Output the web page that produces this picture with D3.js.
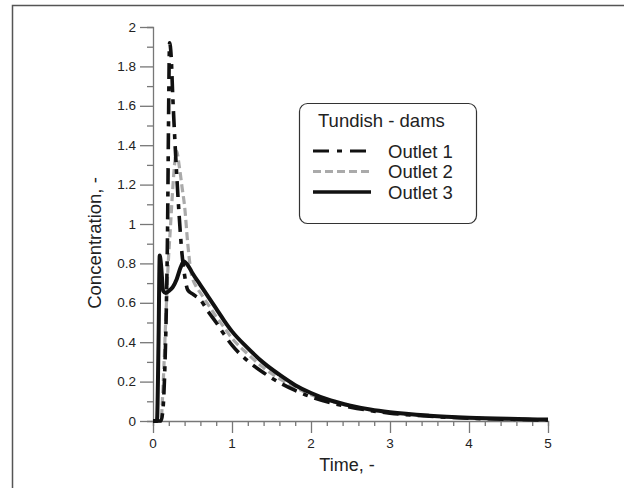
<!DOCTYPE html>
<html><head><meta charset="utf-8">
<script src="https://cdn.jsdelivr.net/npm/d3@7"></script>
<style>
html,body{margin:0;padding:0;background:#fff;}
svg{display:block;font-family:"Liberation Sans",Arial,sans-serif;}
text.lbl{font-size:13.5px;fill:#222;}
</style></head>
<body>
<svg id="c" width="624" height="488"></svg>
<script>
// ---- data ----
const xTicks = [0, 1, 2, 3, 4, 5];
const yTicks = [0, 0.2, 0.4, 0.6, 0.8, 1, 1.2, 1.4, 1.6, 1.8, 2];
const seriesNames = ["Outlet 1", "Outlet 2", "Outlet 3"];
const legendTitle = "Tundish - dams";

const t1 = [0, 0.1, 0.13, 0.15, 0.17, 0.185, 0.195, 0.21, 0.23, 0.25, 0.27, 0.3, 0.33, 0.36, 0.4, 0.44, 0.5, 0.6, 0.7, 0.8, 0.9, 1.0, 1.2, 1.4, 1.6, 1.8, 2.0, 2.25, 2.5, 2.75, 3.0, 3.5, 4.0, 4.5, 5.0];
const c1 = [0, 0, 0.08, 0.27, 0.6, 1.0, 1.45, 1.92, 1.85, 1.65, 1.48, 1.25, 1.05, 0.88, 0.74, 0.665, 0.645, 0.615, 0.555, 0.5, 0.44, 0.385, 0.305, 0.245, 0.195, 0.155, 0.123, 0.093, 0.07, 0.053, 0.04, 0.024, 0.014, 0.009, 0.005];

const t2 = [0, 0.1, 0.13, 0.16, 0.19, 0.22, 0.25, 0.28, 0.3, 0.33, 0.37, 0.4, 0.44, 0.48, 0.55, 0.6, 0.7, 0.8, 0.9, 1.0, 1.2, 1.4, 1.6, 1.8, 2.0, 2.25, 2.5, 2.75, 3.0, 3.5, 4.0, 4.5, 5.0];
const c2 = [0, 0, 0.2, 0.5, 0.78, 0.98, 1.18, 1.33, 1.37, 1.3, 1.18, 1.09, 0.9, 0.76, 0.68, 0.65, 0.59, 0.53, 0.475, 0.42, 0.34, 0.27, 0.215, 0.17, 0.133, 0.1, 0.075, 0.057, 0.042, 0.026, 0.016, 0.01, 0.006];

const t3 = [0, 0.05, 0.07, 0.085, 0.1, 0.13, 0.16, 0.2, 0.25, 0.3, 0.35, 0.39, 0.45, 0.5, 0.6, 0.7, 0.8, 0.9, 1.0, 1.2, 1.4, 1.6, 1.8, 2.0, 2.25, 2.5, 2.75, 3.0, 3.5, 4.0, 4.5, 5.0];
const c3 = [0, 0, 0.4, 0.84, 0.8, 0.66, 0.65, 0.66, 0.68, 0.72, 0.78, 0.81, 0.785, 0.75, 0.69, 0.63, 0.57, 0.51, 0.455, 0.37, 0.295, 0.235, 0.182, 0.142, 0.104, 0.078, 0.058, 0.044, 0.027, 0.017, 0.011, 0.007];

const svg = d3.select("#c");
const x = d3.scaleLinear().domain([0, 5]).range([153, 548]);
const y = d3.scaleLinear().domain([0, 2]).range([421, 27]);

// outer frame (top and left edges)
svg.append("path").attr("d", "M12.5,488 V5.5 H624")
  .attr("fill", "none").attr("stroke", "#555").attr("stroke-width", 1.5);

const axisColor = "#777";
const textColor = "#222";

// x axis (ticks)
const gx = svg.append("g").attr("transform", "translate(0,421)");
gx.call(d3.axisBottom(x).tickValues(d3.range(0, 5.0001, 0.2)).tickSize(5).tickFormat(""));
gx.selectAll(".tick").filter(d => Math.abs(d - Math.round(d)) < 1e-6).select("line").attr("y2", 12);
gx.selectAll(".domain").attr("stroke", axisColor).attr("stroke-width", 1.3);
gx.selectAll("line").attr("stroke", axisColor).attr("stroke-width", 1.3);
// x tick labels
svg.append("g").selectAll("text").data(xTicks).join("text")
  .attr("class", "lbl").attr("x", d => x(d)).attr("y", 448).attr("text-anchor", "middle")
  .text(d3.format("d"));

// y axis (ticks)
const gy = svg.append("g").attr("transform", "translate(153,0)");
gy.call(d3.axisLeft(y).tickValues(d3.range(0, 2.0001, 0.1)).tickSize(6).tickFormat(""));
gy.selectAll(".tick").filter(d => Math.abs(d * 5 - Math.round(d * 5)) < 1e-6).select("line").attr("x2", -13);
gy.selectAll(".domain").attr("stroke", axisColor).attr("stroke-width", 1.3);
gy.selectAll("line").attr("stroke", axisColor).attr("stroke-width", 1.3);
// y tick labels
svg.append("g").selectAll("text").data(yTicks).join("text")
  .attr("class", "lbl").attr("x", 136).attr("y", d => y(d) + 4.5).attr("text-anchor", "end")
  .text(d => String(+d.toFixed(1)));

// axis titles
svg.append("text").attr("x", 347).attr("y", 471).attr("text-anchor", "middle")
  .style("font-size", "18px").attr("fill", textColor).text("Time, -");
svg.append("text").attr("transform", "translate(101,243) rotate(-90)").attr("text-anchor", "middle")
  .style("font-size", "18.5px").attr("fill", textColor).text("Concentration, -");

// series
const styles = [
  {color: "#111", width: 3.6, dash: "16,7,5,7"},
  {color: "#aaaaaa", width: 3.2, dash: "8,4"},
  {color: "#111", width: 4, dash: null}
];
const line = d3.line().x(d => x(d[0])).y(d => y(d[1])).curve(d3.curveMonotoneX);
const data = [d3.zip(t2, c2), d3.zip(t1, c1), d3.zip(t3, c3)];
const order = [1, 0, 2];
data.forEach((pts, i) => {
  const s = styles[order[i]];
  svg.append("path").datum(pts).attr("d", line).attr("fill", "none")
    .attr("stroke", s.color).attr("stroke-width", s.width)
    .attr("stroke-linejoin", "round")
    .attr("stroke-dasharray", s.dash);
});

// legend
const lg = svg.append("g");
lg.append("rect").attr("x", 299.5).attr("y", 103.5).attr("width", 177).attr("height", 120)
  .attr("rx", 8).attr("fill", "#fff").attr("stroke", "#333").attr("stroke-width", 1.2);
lg.append("text").attr("x", 318).attr("y", 127).style("font-size", "18.5px").attr("fill", textColor).text(legendTitle);
const rowY = [151, 171.5, 192];
seriesNames.forEach((n, i) => {
  const s = styles[i];
  lg.append("line").attr("x1", 313).attr("x2", 371).attr("y1", rowY[i]).attr("y2", rowY[i])
    .attr("stroke", s.color).attr("stroke-width", s.width === 4 ? 3.4 : 3)
    .attr("stroke-dasharray", i === 0 ? "16,8,5,8" : s.dash);
  lg.append("text").attr("x", 388).attr("y", rowY[i] + 6.5).style("font-size", "18.5px").attr("fill", textColor).text(n);
});
</script>
</body></html>
